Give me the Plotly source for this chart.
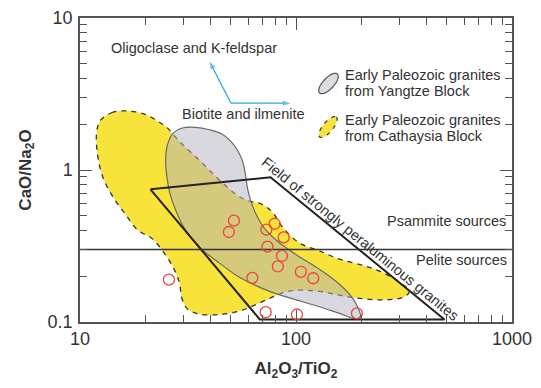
import math
import plotly.graph_objects as go

# ---------------- data ----------------
sample_x = [25.8, 51.6, 48.9, 72.9, 79.6, 87.7, 73.8, 86.1, 82.4, 105.3, 120.2, 62.8, 72.4, 101.0, 191.4]
sample_y = [0.190, 0.464, 0.391, 0.405, 0.443, 0.360, 0.313, 0.272, 0.232, 0.214, 0.194, 0.195, 0.116, 0.112, 0.114]

# Field of strongly peraluminous granites (closed polygon)
field_x = [21.2, 76.2, 487, 68, 21.2]
field_y = [0.746, 0.895, 0.104, 0.104, 0.746]

# Early Paleozoic granites from Cathaysia Block (yellow field)
cathaysia_x = [12.5, 14.0, 15.8, 18.1, 20.3, 22.8, 25.1, 28.9, 35.7, 44.2, 54.7, 60.9, 69.2, 77.8, 86.6,
               104, 126, 159, 210, 257, 301, 335, 315, 257, 197, 159, 128, 104, 88.5, 75.4, 64.3, 54.7,
               44.2, 35.3, 31.4, 29.6, 28.8, 26.2, 21.5, 18.5, 16.2, 14.2, 12.8, 12.1, 11.9, 12.1]
cathaysia_y = [2.14, 2.38, 2.45, 2.41, 2.31, 2.10, 1.92, 1.54, 1.16, 0.859, 0.667, 0.625, 0.597, 0.528, 0.421,
               0.330, 0.297, 0.259, 0.233, 0.209, 0.183, 0.159, 0.146, 0.140, 0.143, 0.150, 0.159, 0.162, 0.157,
               0.143, 0.129, 0.118, 0.112, 0.113, 0.122, 0.144, 0.183, 0.247, 0.355, 0.402, 0.513, 0.667,
               0.886, 1.22, 1.65, 1.95]

# Early Paleozoic granites from Yangtze Block (grey field)
yangtze_x = [29.8, 34.2, 39.8, 45.2, 49.8, 53.6, 56.5, 58.4, 59.6, 61.6, 64.9, 70.7, 82.1, 101, 128, 159,
             183, 195, 199, 189, 159, 124, 93.3, 73.0, 54.7, 44.2, 35.7, 30.8, 27.7, 26.0, 25.2, 24.9, 25.4, 26.8]
yangtze_y = [1.89, 1.91, 1.84, 1.73, 1.55, 1.35, 1.15, 0.927, 0.761, 0.634, 0.521, 0.421, 0.340, 0.275, 0.223,
             0.177, 0.143, 0.121, 0.109, 0.105, 0.114, 0.128, 0.144, 0.162, 0.197, 0.244, 0.311, 0.402, 0.545,
             0.716, 0.927, 1.16, 1.46, 1.73]

# Psammite / pelite boundary
boundary_x = [10, 1000]
boundary_y = [0.3, 0.3]

# Vector arrows (common origin and heads)
arrow_origin_x = 50.0
arrow_origin_y = 2.75
arrow_heads_x = [39.8, 94.3]
arrow_heads_y = [5.17, 2.75]

x_ticks = [10, 100, 1000]
x_ticktext = ["10", "100", "1000"]
y_ticks = [0.1, 1, 10]
y_ticktext = ["0.1", "1", "10"]
minor_x = [v * m for v in (10, 100) for m in range(2, 10)]
minor_y = [v * m for v in (0.1, 1) for m in range(2, 10)]

# ---------------- figure ----------------
FONT = "Liberation Sans, Arial, sans-serif"
TXT = "#333333"

fig = go.Figure()

def close(a):
    return list(a) + [a[0]]

fig.add_trace(go.Scatter(x=close(cathaysia_x), y=close(cathaysia_y), mode="lines", fill="toself",
                         fillcolor="#f8e33a", line=dict(color="#333333", width=1.3, dash="5px,5px"),
                         line_shape="spline", hoverinfo="skip"))
fig.add_trace(go.Scatter(x=close(yangtze_x), y=close(yangtze_y), mode="lines", fill="toself",
                         fillcolor="rgba(178,178,190,0.5)", line=dict(color="#6a6a6a", width=1.2),
                         line_shape="spline", hoverinfo="skip"))
fig.add_trace(go.Scatter(x=field_x, y=field_y, mode="lines",
                         line=dict(color="#222222", width=2), hoverinfo="skip"))
fig.add_trace(go.Scatter(x=boundary_x, y=boundary_y, mode="lines",
                         line=dict(color="#333333", width=1.5), hoverinfo="skip"))
fig.add_trace(go.Scatter(x=sample_x, y=sample_y, mode="markers",
                         marker=dict(symbol="circle-open", size=11, color="#e8473c", line=dict(width=1.3)),
                         hoverinfo="skip"))

# arrows (line + arrow marker at the head)
for hx, hy in zip(arrow_heads_x, arrow_heads_y):
    fig.add_trace(go.Scatter(x=[arrow_origin_x, hx], y=[arrow_origin_y, hy], mode="lines+markers",
                             line=dict(color="#2ea6dc", width=1.3),
                             marker=dict(symbol=["circle", "arrow"], size=[0, 8], angleref="previous",
                                         color="#2ea6dc", line=dict(width=0)),
                             hoverinfo="skip"))

# text
L, R, T, B = 80, 29, 18, 66
W, H = 541 - L - R, 388 - T - B

def px2paper(px, py):
    return (px - L) / W, (388 - B - py) / H

def add_text(txt, px, py, xanchor="center", angle=0, size=14.5):
    xp, yp = px2paper(px, py)
    fig.add_annotation(x=xp, y=yp, xref="paper", yref="paper", text=txt, showarrow=False,
                       xanchor=xanchor, yanchor="middle", textangle=angle,
                       font=dict(family=FONT, size=size, color=TXT))

add_text("Oligoclase and K-feldspar", 194, 48)
add_text("Biotite and ilmenite", 243, 114)
add_text("Early Paleozoic granites", 343, 75, xanchor="left")
add_text("from Yangtze Block", 343, 90.5, xanchor="left")
add_text("Early Paleozoic granites", 343, 120, xanchor="left")
add_text("from Cathaysia Block", 343, 135.5, xanchor="left")
add_text("Psammite sources", 508, 221.5, xanchor="right")
add_text("Pelite sources", 509, 260, xanchor="right")
add_text("Field of strongly peraluminous granites", 360.5, 238.5, angle=39.2)

# legend icons (tilted ellipses)
def ellipse_path(cx, cy, a, b, ang, n=48):
    t = math.radians(ang)
    pts = []
    for i in range(n):
        u = 2 * math.pi * i / n
        ex, ey = a * math.cos(u), b * math.sin(u)
        px = cx + ex * math.cos(t) + ey * math.sin(t)
        py = cy - ex * math.sin(t) + ey * math.cos(t)
        pts.append(px2paper(px, py))
    return "M " + " L ".join(f"{x:.5f},{y:.5f}" for x, y in pts) + " Z"

fig.add_shape(type="path", xref="paper", yref="paper", path=ellipse_path(328.5, 83.5, 13, 5.5, 47),
              fillcolor="#dcdce0", line=dict(color="#555555", width=1.2))
fig.add_shape(type="path", xref="paper", yref="paper", path=ellipse_path(328, 127, 13, 5, 50),
              fillcolor="#f8e33a", line=dict(color="#333333", width=1.2, dash="4px,5px"))

axis_common = dict(type="log", showline=True, linecolor="#555555", linewidth=1.5, mirror="allticks",
                   ticks="inside", ticklen=12, tickwidth=1.3, tickcolor="#555555", showgrid=False,
                   zeroline=False, tickmode="array",
                   tickfont=dict(family=FONT, size=18, color=TXT))

fig.update_xaxes(range=[1, 3], tickvals=x_ticks, ticktext=x_ticktext,
                 minor=dict(tickmode="array", tickvals=minor_x, ticks="inside", ticklen=7,
                            tickwidth=1.2, tickcolor="#555555", showgrid=False),
                 title=dict(text="<b>Al<sub>2</sub>O<sub>3</sub>/TiO<sub>2</sub></b>", standoff=14,
                            font=dict(family=FONT, size=17, color=TXT)),
                 ticklabelstandoff=0, **axis_common)
fig.update_yaxes(range=[-1, 1], tickvals=y_ticks, ticktext=y_ticktext,
                 minor=dict(tickmode="array", tickvals=minor_y, ticks="inside", ticklen=7,
                            tickwidth=1.2, tickcolor="#555555", showgrid=False),
                 title=dict(text="<b>CaO/Na<sub>2</sub>O</b>", standoff=12,
                            font=dict(family=FONT, size=17, color=TXT)),
                 ticklabelstandoff=2, **axis_common)

fig.update_layout(width=541, height=388, margin=dict(l=L, r=R, t=T, b=B, autoexpand=False),
                  paper_bgcolor="white", plot_bgcolor="white", showlegend=False)

fig.write_html("out.html", config={"displayModeBar": False},
               post_script="document.body.style.margin='0';document.body.style.padding='0';")
